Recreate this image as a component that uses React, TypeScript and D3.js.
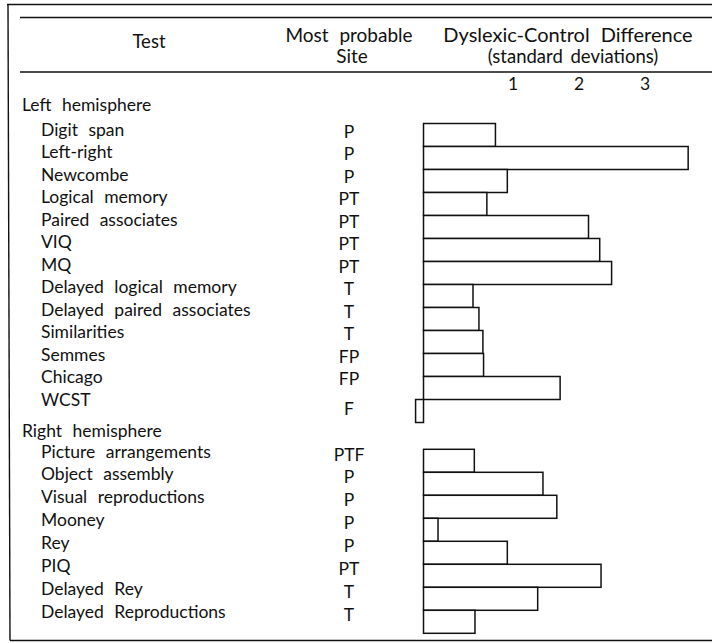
import React from "react";
import * as d3 from "d3";

const LEFT_TESTS = [
  "Digit span",
  "Left-right",
  "Newcombe",
  "Logical memory",
  "Paired associates",
  "VIQ",
  "MQ",
  "Delayed logical memory",
  "Delayed paired associates",
  "Similarities",
  "Semmes",
  "Chicago",
  "WCST",
];
const LEFT_SITES = ["P", "P", "P", "PT", "PT", "PT", "PT", "T", "T", "T", "FP", "FP", "F"];
const LEFT_VALUES = [1.09, 4.01, 1.27, 0.96, 2.5, 2.67, 2.85, 0.75, 0.84, 0.9, 0.91, 2.07, -0.12];

const RIGHT_TESTS = [
  "Picture arrangements",
  "Object assembly",
  "Visual reproductions",
  "Mooney",
  "Rey",
  "PIQ",
  "Delayed Rey",
  "Delayed Reproductions",
];
const RIGHT_SITES = ["PTF", "P", "P", "P", "P", "PT", "T", "T"];
const RIGHT_VALUES = [0.77, 1.81, 2.02, 0.22, 1.27, 2.69, 1.73, 0.78];

const GROUPS = ["Left hemisphere", "Right hemisphere"];
const TICKS = [1, 2, 3];

const W = 712;
const H = 643;
const FONT = "Lato, 'Open Sans', sans-serif";
const FS = 17.5;
const ROW = 23;
const TICK_SHIFT = 23.5;

export default function App() {
  const x = d3.scaleLinear().domain([0, 4]).range([423.5, 423.5 + 4 * 66]);

  const groups = [
    {
      name: GROUPS[0], tests: LEFT_TESTS, sites: LEFT_SITES, values: LEFT_VALUES,
      top: 123.5, textTop: 135.5, textStep: 22.5, siteOff: 2, headerY: 111,
    },
    {
      name: GROUPS[1], tests: RIGHT_TESTS, sites: RIGHT_SITES, values: RIGHT_VALUES,
      top: 449.3, textTop: 457.5, textStep: 22.86, siteOff: 3, headerY: 436.5,
    },
  ];

  return (
    <div style={{ position: "absolute", left: 0, top: 0 }}>
      <svg width={W} height={H} style={{ display: "block", background: "#fff" }} fontFamily={FONT}>
        {/* frame and rules */}
        <g stroke="#111" fill="none">
          <line x1={7} y1={4.5} x2={W} y2={4.5} strokeWidth={1.6} />
          <line x1={8} y1={4} x2={10} y2={640.5} strokeWidth={1.4} />
          <line x1={20} y1={17.5} x2={W} y2={17.5} strokeWidth={1.4} />
          <line x1={20} y1={72} x2={W} y2={72} strokeWidth={1.6} />
          <line x1={10} y1={640.5} x2={W} y2={640.5} strokeWidth={1.6} />
        </g>

        {/* header */}
        <g fill="#111" textAnchor="middle">
          <text x={149} y={48} fontSize={18.5}>Test</text>
          <text x={349} y={42} fontSize={19} wordSpacing={6}>Most probable</text>
          <text x={352} y={63} fontSize={19}>Site</text>
          <text x={568} y={42} fontSize={20} wordSpacing={6}>Dyslexic-Control Difference</text>
          <text x={573} y={63} fontSize={18.5} wordSpacing={3}>(standard deviations)</text>
        </g>

        {/* ticks */}
        <g fill="#111" fontSize={FS} textAnchor="middle">
          {TICKS.map((t) => (
            <text key={t} x={x(t) + TICK_SHIFT} y={90}>
              {t}
            </text>
          ))}
        </g>

        {groups.map((g) => {
          const y = d3
            .scaleBand<string>()
            .domain(g.tests)
            .range([g.top, g.top + g.tests.length * ROW])
            .padding(0);
          return (
            <g key={g.name}>
              <text x={22} y={g.headerY} fontSize={FS} fill="#111" wordSpacing={6}>
                {g.name}
              </text>
              {g.tests.map((t, i) => {
                const ty = g.textTop + i * g.textStep;
                const extra = g.values[i] < 0 ? 9 : g.siteOff;
                return (
                  <g key={t}>
                    <text x={41} y={ty} fontSize={FS} fill="#111" wordSpacing={6}>
                      {t}
                    </text>
                    <text x={349} y={ty + extra} fontSize={FS} fill="#111" textAnchor="middle">
                      {g.sites[i]}
                    </text>
                  </g>
                );
              })}
              {g.tests.map((t, i) => {
                const v = g.values[i];
                const x0 = x(Math.min(0, v));
                const x1 = x(Math.max(0, v));
                return (
                  <rect
                    key={t}
                    x={x0}
                    y={y(t) as number}
                    width={x1 - x0}
                    height={y.bandwidth()}
                    fill="#fff"
                    stroke="#111"
                    strokeWidth={1.5}
                  />
                );
              })}
            </g>
          );
        })}
      </svg>
    </div>
  );
}
